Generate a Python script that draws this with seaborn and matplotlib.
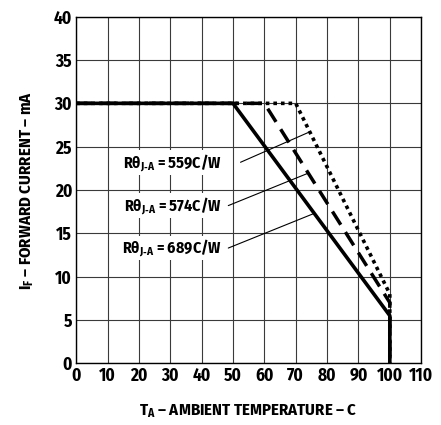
import matplotlib
matplotlib.use("Agg")
import matplotlib.pyplot as plt
import matplotlib.font_manager as fm
import seaborn as sns
import pandas as pd

# derating curves
temp_689 = [0, 50, 100, 100]
curr_689 = [30, 30, 5.5, 0]
temp_574 = [0, 60, 100, 100]
curr_574 = [30, 30, 7, 0]
temp_559 = [0, 70, 100, 100]
curr_559 = [30, 30, 8, 0]

label_names = ["559C/W", "574C/W", "689C/W"]
x_ticks = list(range(0, 111, 10))
y_ticks = list(range(0, 41, 5))

sns.set_theme(style="white")
names = {f.name for f in fm.fontManager.ttflist}
font = next((f for f in ["Fira Sans Condensed", "PT Sans Narrow", "Roboto Condensed"] if f in names),
            "DejaVu Sans")
plt.rcParams["font.family"] = [font, "DejaVu Sans"]
plt.rcParams["mathtext.fontset"] = "custom"
plt.rcParams["mathtext.rm"] = font
plt.rcParams["mathtext.bf"] = font + ":bold"
plt.rcParams["mathtext.it"] = font + ":italic"
plt.rcParams["text.color"] = "black"
plt.rcParams["axes.labelcolor"] = "black"
plt.rcParams["xtick.color"] = "black"
plt.rcParams["ytick.color"] = "black"

fig = plt.figure(figsize=(4.41, 4.25), dpi=100)
ax = fig.add_axes([0.1728, 0.1452, 0.955 - 0.1728, 0.9607 - 0.1452])

df = pd.concat([
    pd.DataFrame({"T": temp_689, "I": curr_689, "curve": "689"}),
    pd.DataFrame({"T": temp_574, "I": curr_574, "curve": "574"}),
    pd.DataFrame({"T": temp_559, "I": curr_559, "curve": "559"}),
])

styles = {"689": ("-", 2.6), "574": ((0, (4.5, 2.5)), 2.5), "559": ((0, (1, 1.1)), 2.6)}
for key, grp in df.groupby("curve"):
    ls, lw = styles[key]
    sns.lineplot(data=grp, x="T", y="I", ax=ax, estimator=None, sort=False,
                 color="black", lw=lw, linestyle=ls, zorder=4)

ax.set_xlim(0, 110)
ax.set_ylim(0, 40)
ax.set_xticks(x_ticks)
ax.set_yticks(y_ticks)
ax.grid(True, color="#3a3a3a", lw=0.8)
for s in ax.spines.values():
    s.set_color("black")
    s.set_linewidth(1.0)
ax.tick_params(labelsize=12.5, pad=3, length=0)
for t in ax.get_xticklabels() + ax.get_yticklabels():
    t.set_fontweight("bold")

# labels with leader lines
label_pos = [(23.2, 52.4, 74.4, 26.7), (18.2, 48.5, 73.7, 21.9), (13.3, 48.5, 75.9, 17.3)]
for name, (ly, x0, x1, y1) in zip(label_names, label_pos):
    ax.text(46.5, ly, "Rθ$_{\\mathbf{J\u2011A}}$ = " + name, ha="right", va="center",
            fontsize=11.5, fontweight="bold", zorder=5,
            bbox=dict(facecolor="white", edgecolor="none", pad=1.5))
    ax.plot([x0, x1], [ly, y1], color="black", lw=0.8, zorder=5)

ax.set_xlabel("T$_\\mathbf{A}$ – AMBIENT TEMPERATURE – C", fontsize=12, fontweight="bold", labelpad=12)
ax.set_ylabel("I$_\\mathbf{F}$ – FORWARD CURRENT – mA", fontsize=12, fontweight="bold", labelpad=13)

fig.savefig("out.png", dpi=100, facecolor="white")
